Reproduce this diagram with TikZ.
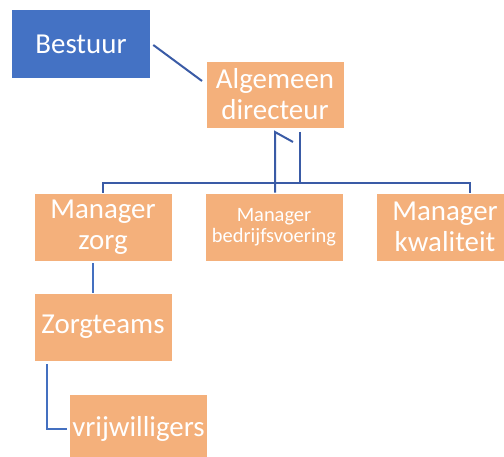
\documentclass[tikz,border=0pt]{standalone}
\usepackage{fontspec}
\setmainfont{Carlito}
\usetikzlibrary{calc}
\definecolor{boxorange}{HTML}{F4B07B}
\definecolor{boxblue}{HTML}{4472C4}
\definecolor{linedark}{HTML}{3A5BA6}
\definecolor{linelight}{HTML}{4470C0}
\tikzset{
  orgbox/.style={fill=boxorange, draw=white, line width=0.6bp, minimum width=138bp, minimum height=68bp,
    inner sep=0pt, align=center, text=white, font=\fontsize{29}{31}\selectfont},
  topbox/.style={orgbox, fill=boxblue, draw=none},
  smalltext/.style={font=\fontsize{20.5}{21}\selectfont},
  conn/.style={draw=linedark, line width=2bp},
  connl/.style={draw=linelight, line width=2bp}
}
\begin{document}
\begin{tikzpicture}[x=1bp,y=-1bp]
\clip (0,0) rectangle (504,457);
\fill[white] (0,0) rectangle (504,457);
\node[topbox] (bestuur) at (81,44) {Bestuur};
\node[orgbox, minimum height=67bp] (alg) at (275,94.5) {Algemeen\\directeur};
\node[orgbox] (zorg) at (103,227) {Manager\\zorg};
\node[orgbox, smalltext] (bedr) at (274,227) {Manager\\bedrijfsvoering};
\node[orgbox] (kwal) at (445,227) {Manager\\kwaliteit};
\node[orgbox] (teams) at (103,327) {Zorgteams};
\node[orgbox, minimum height=70bp] (vrij) at (138.5,429) {vrijwilligers};
% connectors
\coordinate (b1) at (202,81);
\draw[conn] ([xshift=3bp,yshift=-1bp]bestuur.east) -- (b1);
\coordinate (d0) at (293,142);
\coordinate (d1) at (275,132);
\coordinate (d2) at (300,132);
\coordinate (busL) at (103,183);
\coordinate (busR) at (470,183);
\draw[conn] (d0) -- (d1) -- (d1 |- bedr.north);
\draw[conn] (d2) -- (d2 |- busL);
\draw[conn] (busL |- zorg.north) -- (busL) -- (busR) -- (busR |- kwal.north);
\coordinate (z1) at (93,263);
\draw[connl] (z1) -- (z1 |- teams.north);
\coordinate (t1) at (47,364);
\draw[connl, line join=miter] (t1) -- (t1 |- vrij.west) -- ([xshift=-2bp]vrij.west);
\end{tikzpicture}
\end{document}
